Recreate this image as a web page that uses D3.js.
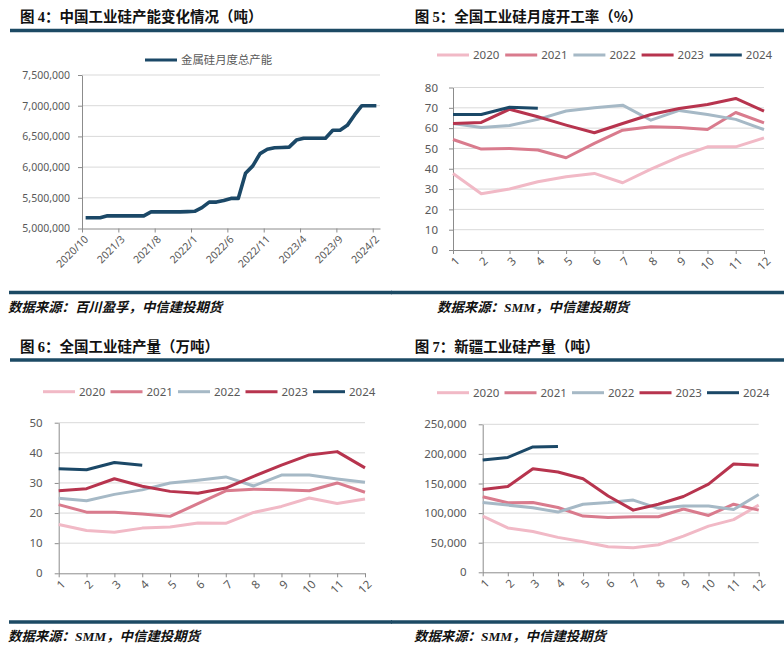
<!DOCTYPE html>
<html>
<head>
<meta charset="utf-8">
<script src="https://cdn.jsdelivr.net/npm/d3@7"></script>
<style>
  body { margin: 0; background: #fff; }
  svg { display: block; }
  .tickText { font-family: "Noto Sans", sans-serif; fill: #595959; }
  .title { font-family: "Noto Sans CJK SC", sans-serif; font-weight: 700; fill: #111; }
  .source { font-family: "Noto Sans CJK SC", sans-serif; font-weight: 700; font-style: italic; fill: #111; }
</style>
</head>
<body>
<svg id="chart" width="784" height="651"></svg>
<script>
// 图4 data: monthly capacity (t)
const capMonths = [
  "2020/10","2020/11","2020/12","2021/1","2021/2","2021/3","2021/4","2021/5","2021/6","2021/7",
  "2021/8","2021/9","2021/10","2021/11","2021/12","2022/1","2022/2","2022/3","2022/4","2022/5",
  "2022/6","2022/7","2022/8","2022/9","2022/10","2022/11","2022/12","2023/1","2023/2","2023/3",
  "2023/4","2023/5","2023/6","2023/7","2023/8","2023/9","2023/10","2023/11","2023/12","2024/1",
  "2024/2"
];
const capacity = [
  5174000,5174000,5174000,5206000,5206000,5206000,5206000,5206000,5206000,5270000,
  5270000,5270000,5270000,5270000,5275000,5280000,5340000,5430000,5430000,5456000,
  5490000,5490000,5900000,6020000,6220000,6290000,6315000,6320000,6325000,6440000,
  6470000,6470000,6470000,6470000,6600000,6600000,6680000,6850000,7000000,7000000,
  7000000
];
const capTickIdx = [0, 5, 10, 15, 20, 25, 30, 35, 40];
const capYTicks = [5000000, 5500000, 6000000, 6500000, 7000000, 7500000];

// 图5-7 shared categories
const monthNums = [1, 2, 3, 4, 5, 6, 7, 8, 9, 10, 11, 12];
const years = ["2020", "2021", "2022", "2023", "2024"];

// 图5 operating rate (%)
const rate2020 = [37.7, 27.7, 30.0, 33.6, 36.1, 37.7, 33.1, 39.8, 45.9, 50.8, 50.8, 55.2];
const rate2021 = [54.4, 49.7, 50.0, 49.2, 45.4, 52.5, 59.0, 60.7, 60.3, 59.3, 67.7, 62.6];
const rate2022 = [62.3, 60.3, 61.3, 64.3, 68.4, 70.0, 71.3, 63.9, 68.7, 66.7, 64.3, 59.3];
const rate2023 = [62.3, 62.8, 69.3, 65.6, 61.5, 57.7, 62.3, 66.7, 69.7, 71.6, 74.6, 68.4];
const rate2024 = [66.7, 66.7, 70.3, 69.8];
const rateYTicks = [0, 10, 20, 30, 40, 50, 60, 70, 80];

// 图6 national output (10k t)
const out2020 = [16.2, 14.2, 13.6, 15.0, 15.4, 16.7, 16.6, 20.2, 22.2, 25.0, 23.2, 24.7];
const out2021 = [22.8, 20.3, 20.3, 19.7, 18.9, 23.1, 27.4, 27.9, 27.7, 27.4, 30.0, 26.9];
const out2022 = [24.9, 24.1, 26.2, 27.7, 30.0, 30.9, 32.0, 29.0, 32.6, 32.6, 31.3, 30.2];
const out2023 = [27.4, 28.1, 31.4, 28.9, 27.2, 26.6, 28.3, 32.2, 35.9, 39.3, 40.4, 35.0];
const out2024 = [34.7, 34.4, 36.8, 35.9];
const outYTicks = [0, 10, 20, 30, 40, 50];

// 图7 Xinjiang output (t)
const xj2020 = [95000, 75000, 69000, 59000, 51700, 43000, 41600, 46600, 61000, 78000, 89000, 113500];
const xj2021 = [127500, 117400, 118000, 109500, 95000, 92700, 93800, 93800, 107000, 96000, 115000, 105000];
const xj2022 = [118000, 113500, 109000, 101700, 115000, 118000, 122000, 108000, 112000, 112000, 106000, 131500];
const xj2023 = [140000, 145000, 175000, 169500, 158000, 129000, 105000, 115000, 128000, 149000, 183000, 181000];
const xj2024 = [189700, 194000, 211700, 212300];
const xjYTicks = [0, 50000, 100000, 150000, 200000, 250000];

const yearColors = ["#f1b9c6", "#d97b8d", "#a6b9c6", "#b7344e", "#1b4867"];
const ruleColor = "#1c4a64";
const axisColor = "#8c8c8c";
const gridColor = "#d9d9d9";

const svg = d3.select("#chart");

function drawFrame({ x0, x1, titleX, titleY, pre, num, rest, ruleY, bottomY, srcX, srcY, srcParts }) {
  const t = svg.append("text").attr("class", "title")
    .attr("x", titleX).attr("y", titleY).style("font-size", "14.5px");
  t.append("tspan").text(pre);
  t.append("tspan").style("font-family", "'Liberation Serif', serif").text(num);
  t.append("tspan").text(rest);

  svg.append("line").attr("x1", x0).attr("x2", x1).attr("y1", ruleY).attr("y2", ruleY)
    .attr("stroke", ruleColor).attr("stroke-width", 3.3);
  svg.append("line").attr("x1", x0 - 1).attr("x2", x1).attr("y1", bottomY).attr("y2", bottomY)
    .attr("stroke", ruleColor).attr("stroke-width", 3.3);

  const s = svg.append("text").attr("class", "source")
    .attr("x", srcX).attr("y", srcY).style("font-size", "13.4px");
  srcParts.forEach(p => {
    const ts = s.append("tspan").text(p.text);
    if (p.serif) ts.style("font-family", "'Liberation Serif', serif");
  });
}

function styleAxis(g) {
  g.select(".domain").attr("stroke", axisColor);
  g.selectAll(".tick line").attr("stroke", axisColor);
}

function drawGrid(g, y, ticks, xa, xb, skip) {
  g.selectAll(null).data(ticks.filter(v => v !== skip)).join("line")
    .attr("x1", xa).attr("x2", xb)
    .attr("y1", d => y(d)).attr("y2", d => y(d))
    .attr("stroke", gridColor).attr("stroke-width", 1);
}

function rotateLabels(g, fontSize) {
  g.selectAll(".tick text")
    .attr("class", "tickText")
    .attr("x", 0).attr("y", 0).attr("dy", "0.35em")
    .attr("transform", "translate(4,9) rotate(-45)")
    .style("text-anchor", "end")
    .style("font-size", fontSize);
}

// ---------- 图4 ----------
drawFrame({
  x0: 10, x1: 392, titleX: 20, titleY: 21.5,
  pre: "图 ", num: "4", rest: "：中国工业硅产能变化情况（吨）",
  ruleY: 30.5, bottomY: 292.5, srcX: 8, srcY: 312,
  srcParts: [{ text: "数据来源：百川盈孚，中信建投期货" }]
});

(function () {
  const x = d3.scaleLinear().domain([0, capMonths.length]).range([82, 380]);
  const y = d3.scaleLinear().domain([5000000, 7500000]).range([228.5, 75]);
  const g = svg.append("g");

  drawGrid(g, y, capYTicks, 82, 380, 5000000);

  const ya = g.append("g").attr("transform", "translate(82,0)")
    .call(d3.axisLeft(y).tickValues(capYTicks).tickFormat(d3.format(",")).tickSize(4).tickSizeOuter(0).tickPadding(8));
  styleAxis(ya);
  ya.selectAll(".tick text").attr("class", "tickText").style("font-size", "10.5px");

  const xa = g.append("g").attr("transform", `translate(0,${y(5000000)})`)
    .call(d3.axisBottom(x).tickValues(capTickIdx).tickFormat(i => capMonths[i]).tickSize(4).tickSizeOuter(0));
  styleAxis(xa);
  rotateLabels(xa, "10.5px");

  g.append("path").datum(capacity)
    .attr("fill", "none").attr("stroke", yearColors[4]).attr("stroke-width", 3.6)
    .attr("stroke-linejoin", "round")
    .attr("d", d3.line().x((d, i) => x(i + 0.5)).y(d => y(d)));

  g.append("line").attr("x1", 145).attr("x2", 177).attr("y1", 60).attr("y2", 60)
    .attr("stroke", yearColors[4]).attr("stroke-width", 3);
  g.append("text").attr("x", 181).attr("y", 60).attr("dy", "0.35em")
    .style("font-family", "'Noto Sans CJK SC', sans-serif").style("font-size", "11.4px")
    .attr("fill", "#595959").text("金属硅月度总产能");
})();

// ---------- shared year panels ----------
function drawYearPanel({ series, yTicks, yMax, xr, yr, fmt, legX, legStep, legY, pad }) {
  const x = d3.scalePoint().domain(monthNums).range(xr);
  const y = d3.scaleLinear().domain([0, yMax]).range(yr);
  const g = svg.append("g");

  drawGrid(g, y, yTicks, xr[0], xr[1], 0);

  const ya = g.append("g").attr("transform", `translate(${xr[0]},0)`)
    .call(d3.axisLeft(y).tickValues(yTicks).tickFormat(fmt).tickSize(4).tickSizeOuter(0).tickPadding(pad));
  styleAxis(ya);
  ya.selectAll(".tick text").attr("class", "tickText").style("font-size", "11.5px");

  const xa = g.append("g").attr("transform", `translate(0,${yr[0]})`)
    .call(d3.axisBottom(x).tickSize(4).tickSizeOuter(0));
  styleAxis(xa);
  rotateLabels(xa, "11.5px");

  const line = d3.line().x((d, i) => x(monthNums[i])).y(d => y(d));
  series.forEach((vals, k) => {
    g.append("path").datum(vals)
      .attr("fill", "none").attr("stroke", yearColors[k]).attr("stroke-width", 3)
      .attr("stroke-linejoin", "round").attr("d", line);
  });

  const leg = g.selectAll(".leg").data(years).join("g")
    .attr("transform", (d, i) => `translate(${legX + i * legStep},${legY})`);
  leg.append("line").attr("x1", 0).attr("x2", 32)
    .attr("stroke", (d, i) => yearColors[i]).attr("stroke-width", 3);
  leg.append("text").attr("class", "tickText").attr("x", 36).attr("dy", "0.35em")
    .style("font-size", "11.5px").text(d => d);
}

// ---------- 图5 ----------
drawFrame({
  x0: 392, x1: 784, titleX: 414.7, titleY: 22,
  pre: "图 ", num: "5", rest: "：全国工业硅月度开工率（%）",
  ruleY: 30.5, bottomY: 292.5, srcX: 437, srcY: 312,
  srcParts: [{ text: "数据来源：" }, { text: "SMM", serif: true }, { text: "，中信建投期货" }]
});
drawYearPanel({
  series: [rate2020, rate2021, rate2022, rate2023, rate2024],
  yTicks: rateYTicks, yMax: 80, xr: [453, 764], yr: [250, 87.5], fmt: d => d,
  legX: 437, legStep: 68.2, legY: 55, pad: 11
});

// ---------- 图6 ----------
drawFrame({
  x0: 10, x1: 392, titleX: 20, titleY: 352,
  pre: "图 ", num: "6", rest: "：全国工业硅产量（万吨）",
  ruleY: 360, bottomY: 622, srcX: 8, srcY: 641,
  srcParts: [{ text: "数据来源：" }, { text: "SMM", serif: true }, { text: "，中信建投期货" }]
});
drawYearPanel({
  series: [out2020, out2021, out2022, out2023, out2024],
  yTicks: outYTicks, yMax: 50, xr: [58.7, 365], yr: [573.3, 422.7], fmt: d => d,
  legX: 43, legStep: 67.5, legY: 391.7, pad: 12
});

// ---------- 图7 ----------
drawFrame({
  x0: 392, x1: 784, titleX: 414.7, titleY: 352,
  pre: "图 ", num: "7", rest: "：新疆工业硅产量（吨）",
  ruleY: 360, bottomY: 622, srcX: 414, srcY: 641,
  srcParts: [{ text: "数据来源：" }, { text: "SMM", serif: true }, { text: "，中信建投期货" }]
});
drawYearPanel({
  series: [xj2020, xj2021, xj2022, xj2023, xj2024],
  yTicks: xjYTicks, yMax: 250000, xr: [482.7, 758.7], yr: [572.3, 424.3], fmt: d3.format(","),
  legX: 437, legStep: 67.5, legY: 392.7, pad: 12
});
</script>
</body>
</html>
